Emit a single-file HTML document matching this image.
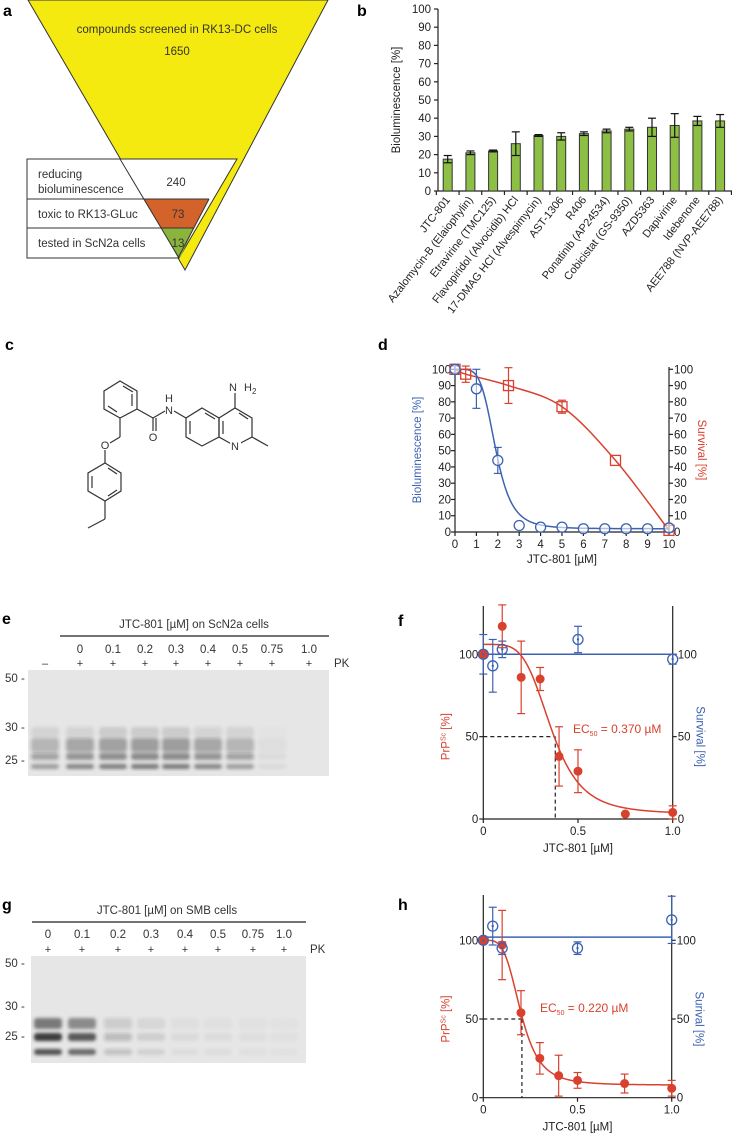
<!DOCTYPE html>
<html><head><meta charset="utf-8"><style>
html,body{margin:0;padding:0;background:#fff;}
svg{display:block;font-family:"Liberation Sans",sans-serif;}
</style></head><body>
<svg id="fig" xmlns="http://www.w3.org/2000/svg" width="732" height="1136" viewBox="0 0 732 1136">
<defs>
<filter id="blur" x="-20%" y="-50%" width="140%" height="200%"><feGaussianBlur stdDeviation="1.6"/></filter>
</defs>
<!-- Panel a -->
<g>
<text x="3" y="16" font-size="16" font-weight="bold">a</text>
<polygon points="28,0 328,0 185,270" fill="#f5ea10" stroke="#333" stroke-width="1"/>
<polygon points="27,159 237,159 179,258 27,258" fill="#fff" stroke="#333" stroke-width="1"/>
<polygon points="144,199 209,199 194,228 161,228" fill="#d4622b"/>
<polygon points="161,228 194,228 181,256 178,258" fill="#8ab43c"/>
<line x1="120" y1="159" x2="179" y2="258" stroke="#333" stroke-width="1"/>
<line x1="209" y1="199" x2="178" y2="258" stroke="#333" stroke-width="1"/>
<line x1="27" y1="199" x2="209" y2="199" stroke="#333" stroke-width="1"/>
<line x1="27" y1="228" x2="194" y2="228" stroke="#333" stroke-width="1"/>
<text x="177" y="33" font-size="11.5" text-anchor="middle" fill="#333">compounds screened in RK13-DC cells</text>
<text x="177" y="55" font-size="11.5" text-anchor="middle" fill="#333">1650</text>
<text x="38" y="178" font-size="11.5" fill="#333">reducing</text>
<text x="38" y="193" font-size="11.5" fill="#333">bioluminescence</text>
<text x="176" y="186" font-size="11.5" text-anchor="middle" fill="#333">240</text>
<text x="38" y="218" font-size="11.5" fill="#333">toxic to RK13-GLuc</text>
<text x="178" y="218" font-size="11.5" text-anchor="middle" fill="#333">73</text>
<text x="38" y="247" font-size="11.5" fill="#333">tested in ScN2a cells</text>
<text x="178" y="247" font-size="11.5" text-anchor="middle" fill="#333">13</text>
</g>
<text x="357" y="16" font-size="16" font-weight="bold">b</text>
<text x="5" y="350" font-size="16" font-weight="bold">c</text>
<text x="378" y="350" font-size="16" font-weight="bold">d</text>
<text x="2" y="624" font-size="16" font-weight="bold">e</text>
<text x="398" y="626" font-size="16" font-weight="bold">f</text>
<text x="2" y="910" font-size="16" font-weight="bold">g</text>
<text x="398" y="910" font-size="16" font-weight="bold">h</text>
<!-- Panel c structure -->
<g stroke="#333" stroke-width="1.2" fill="none">
<polygon points="120,381 137,391 137,409 120,418 104,409 104,391"/>
<line x1="123" y1="386" x2="133" y2="392"/><line x1="132" y1="406" x2="132" y2="394"/><line x1="108" y1="406" x2="117" y2="412"/>
<line x1="137" y1="409" x2="153" y2="418"/>
<line x1="153" y1="418" x2="153" y2="431"/><line x1="156" y1="418" x2="156" y2="431"/>
<line x1="153" y1="418" x2="165" y2="411"/>
<line x1="174" y1="411" x2="186" y2="418"/>
<polygon points="202,408 219,418 219,437 202,446 186,437 186,418"/>
<polygon points="219,418 235,408 252,418 252,437 235,446 219,437"/>
<line x1="190" y1="421" x2="190" y2="434"/><line x1="205" y1="413" x2="215" y2="419"/><line x1="239" y1="413" x2="248" y2="419"/><line x1="223" y1="421" x2="223" y2="434"/>
<line x1="235" y1="408" x2="235" y2="393"/>
<line x1="252" y1="437" x2="268" y2="446"/>
<line x1="120" y1="418" x2="120" y2="437"/><line x1="120" y1="437" x2="110" y2="443"/>
<line x1="105" y1="450" x2="105" y2="463"/>
<polygon points="105,463 121,473 121,491 105,501 88,491 88,473"/>
<line x1="108" y1="468" x2="117" y2="474"/><line x1="92" y1="476" x2="92" y2="488"/><line x1="108" y1="496" x2="117" y2="490"/>
<line x1="105" y1="501" x2="105" y2="519"/><line x1="105" y1="519" x2="88" y2="528"/>
</g>
<g font-size="11" fill="#333">
<rect x="149" y="431" width="9" height="11" fill="#fff"/>
<text x="153" y="441" text-anchor="middle">O</text>
<text x="169" y="414" text-anchor="middle">N</text>
<text x="169" y="402" text-anchor="middle">H</text>
<rect x="230" y="439" width="11" height="12" fill="#fff"/>
<text x="235" y="450" text-anchor="middle">N</text>
<text x="233" y="391" text-anchor="middle">N</text>
<text x="244" y="391">H</text><text x="252" y="394" font-size="8">2</text>
<text x="105" y="449" text-anchor="middle">O</text>
</g>
<!-- Blot e -->
<g>
<text x="194" y="628" font-size="11.5" text-anchor="middle" fill="#333">JTC-801 [µM] on ScN2a cells</text>
<line x1="60" y1="636" x2="329" y2="636" stroke="#222" stroke-width="1.2"/>
<rect x="28" y="670" width="301" height="106" fill="#e6e6e6"/>
<g id="blotE"></g>
</g>
<g>
<text x="167" y="914" font-size="11.5" text-anchor="middle" fill="#333">JTC-801 [µM] on SMB cells</text>
<line x1="32" y1="922" x2="306" y2="922" stroke="#222" stroke-width="1.2"/>
<rect x="31" y="956" width="275" height="107" fill="#e6e6e6"/>
<g id="blotG"></g>
</g>
<g id="charts"></g>
</svg>
<script>
// ---- Panel b data ----
const bCategories=["JTC-801","Azalomycin-B (Elaiophylin)","Etravirine (TMC125)","Flavopiridol (Alvocidib) HCl","17-DMAG HCl (Alvespimycin)","AST-1306","R406","Ponatinib (AP24534)","Cobicistat (GS-9350)","AZD5363","Dapivirine","Idebenone","AEE788 (NVP-AEE788)"];
const bValues=[17.5,21,22,26,30.5,30,31.5,33,34,35,36,38.5,38.5];
const bErrors=[2,1,0.5,6.5,0.5,2,1,1,1,5,6.5,2.5,3.5];
const bTicks=[0,10,20,30,40,50,60,70,80,90,100];
// ---- Panel d data ----
const dBlueX=[0,1,2,3,4,5,6,7,8,9,10];
const dBlueY=[100,88,44,4,3,3,2,2,2,2,2.5];
const dBlueErr=[3,12,8,0,0,0,0,0,0,0,0];
const dRedX=[0,0.5,2.5,5,7.5,10];
const dRedY=[100,97,90,77,44,1];
const dRedErr=[2,5,11,4,0,0];
const dBlueFit=[2,100,1.9,5]; // bottom, top, ec50, hill
const dYTicks=[0,10,20,30,40,50,60,70,80,90,100];
const dXTicks=[0,1,2,3,4,5,6,7,8,9,10];
// ---- Panel f data ----
const fRedX=[0,0.1,0.2,0.3,0.4,0.5,0.75,1.0];
const fRedY=[100,117,86,85,38,29,3,4];
const fRedErr=[0,13,22,7,18,13,0,4];
const fBlueX=[0,0.05,0.1,0.5,1.0];
const fBlueY=[100,93,103,109,97];
const fBlueErr=[12,16,5,8,3];
const fRedFit=[3,106,0.36,4.5];
const fBlueLevel=[100];
const fEC50=[0.38];
// ---- Panel h data ----
const hRedX=[0,0.1,0.2,0.3,0.4,0.5,0.75,1.0];
const hRedY=[100,97,54,25,14,11,9,6];
const hRedErr=[0,22,14,10,13,5,6,5];
const hBlueX=[0,0.05,0.1,0.5,1.0];
const hBlueY=[100,109,95,95,113];
const hBlueErr=[0,12,4,4,15];
const hRedFit=[8,100,0.2,4];
const hBlueLevel=[102];
const hEC50=[0.205];
const fhYTicks=[0,50,100];
const fhXTicks=[0,0.5,1.0];
// ---- Blot data ----
const eLanes=["–","0","0.1","0.2","0.3","0.4","0.5","0.75","1.0"];
const eLaneX=[45,80,113,145,176,208,240,272,309];
const eIntensity=[0.55,0.7,0.75,0.78,0.78,0.7,0.55,0.08,0];
const gLanes=["0","0.1","0.2","0.3","0.4","0.5","0.75","1.0"];
const gLaneX=[48,82,118,151,185,218,253,284];
const gIntensity=[1,0.85,0.25,0.12,0.06,0.05,0.04,0.03];

const NS="http://www.w3.org/2000/svg";
const root=document.getElementById('charts');
const RED="#d9412f", BLUE="#3d62b3", INK="#222";
function add(tag,attrs,name,parent){
  const el=document.createElementNS(NS,tag);
  for(const k in attrs) el.setAttribute(k,attrs[k]);
  
  
  (parent||root).appendChild(el);
  return el;
}
function txt(x,y,s,name,opt){
  const o=Object.assign({x:x,y:y,'font-size':11,fill:INK},opt||{});
  const t=add('text',o,name);
  t.textContent=s;return t;
}
function line(x1,y1,x2,y2,name,stroke,w,dash){
  const a={x1:x1,y1:y1,x2:x2,y2:y2,stroke:stroke||INK,'stroke-width':w||1.2};
  if(dash)a['stroke-dasharray']=dash;
  return add('line',a,name);
}
function errbar(x,y0,y1,col,name){
  line(x,y0,x,y1,name,col,1.2);
  line(x-4,y0,x+4,y0,name+'-cap',col,1.2);
  line(x-4,y1,x+4,y1,name+'-cap',col,1.2);
}
function hill(p,x){return p[0]+(p[1]-p[0])/(1+Math.pow(Math.max(x,1e-9)/p[2],p[3]));}

// ===== Panel b =====
const yb=v=>191-v*1.82, xb=i=>447.7+i*22.7;
line(438,9,438,191,'b-y-axis');
line(438,191,732,191,'b-x-axis');
bTicks.forEach(t=>{line(434,yb(t),438,yb(t),'b-y-tick');txt(431,yb(t)+4,String(t),'b-y-tick-label',{'text-anchor':'end','font-size':11.5});});
for(let i=0;i<=bCategories.length;i++){line(xb(i)-11.35,191,xb(i)-11.35,195,'b-x-tick');}
bValues.forEach((v,i)=>{
  add('rect',{x:xb(i)-4.5,y:yb(v),width:9,height:191-yb(v),fill:'#8dbf45',stroke:'#333','stroke-width':1},'bar-'+i);
  errbar(xb(i),yb(v+bErrors[i]),yb(v-bErrors[i]),'#111','b-error-'+i);
  const t=txt(0,0,bCategories[i],'b-category-label',{'text-anchor':'end','font-size':11,transform:`translate(${xb(i)+3},${200}) rotate(-52)`});
});
txt(0,0,'Bioluminescence [%]','b-y-axis-title',{'text-anchor':'middle','font-size':11.5,transform:'translate(400,100) rotate(-90)'});

// ===== Panel d =====
const xd=v=>455+v*21.4, yd=v=>532-v*1.627;
line(455,367,455,532,'d-left-axis');line(669,367,669,532,'d-right-axis');line(455,532,669,532,'d-x-axis');
dYTicks.forEach(t=>{line(451,yd(t),455,yd(t),'d-left-tick');line(669,yd(t),673,yd(t),'d-right-tick');
 txt(451,yd(t)+4,String(t),'d-left-tick-label',{'text-anchor':'end','font-size':11.5});
 txt(674,yd(t)+4,String(t),'d-right-tick-label',{'font-size':11.5});});
dXTicks.forEach(t=>{line(xd(t),532,xd(t),536,'d-x-tick');txt(xd(t),548,String(t),'d-x-tick-label',{'text-anchor':'middle','font-size':11.5});});
txt(562,563,'JTC-801 [µM]','d-x-axis-title',{'text-anchor':'middle','font-size':11.5});
txt(0,0,'Bioluminescence [%]','d-left-axis-title',{'text-anchor':'middle','font-size':11.5,fill:BLUE,transform:'translate(421,450) rotate(-90)'});
txt(0,0,'Survival [%]','d-right-axis-title',{'text-anchor':'middle','font-size':11.5,fill:RED,transform:'translate(698,450) rotate(90)'});
// red curve: catmull-rom through points
(function(){
  const P=dRedX.map((x,i)=>[xd(x),yd(dRedY[i])]);
  let d='M'+P[0][0]+','+P[0][1];
  for(let i=0;i<P.length-1;i++){
    const p0=P[Math.max(i-1,0)],p1=P[i],p2=P[i+1],p3=P[Math.min(i+2,P.length-1)];
    const c1=[p1[0]+(p2[0]-p0[0])/6,p1[1]+(p2[1]-p0[1])/6],c2=[p2[0]-(p3[0]-p1[0])/6,p2[1]-(p3[1]-p1[1])/6];
    d+=` C${c1[0]},${c1[1]} ${c2[0]},${c2[1]} ${p2[0]},${p2[1]}`;
  }
  add('path',{d:d,fill:'none',stroke:RED,'stroke-width':1.5},'d-survival-curve');
})();
(function(){let d='';for(let x=0;x<=10.001;x+=0.05){d+=(d?'L':'M')+xd(x)+','+yd(hill(dBlueFit,x));}
 add('path',{d:d,fill:'none',stroke:BLUE,'stroke-width':1.5},'d-bioluminescence-curve');})();
dRedX.forEach((x,i)=>{if(dRedErr[i])errbar(xd(x),yd(dRedY[i]+dRedErr[i]),yd(dRedY[i]-dRedErr[i]),RED,'d-survival-error');
 add('rect',{x:xd(x)-5,y:yd(dRedY[i])-5,width:10,height:10,fill:'none',stroke:RED,'stroke-width':1.3},'d-survival-point');});
dBlueX.forEach((x,i)=>{if(dBlueErr[i])errbar(xd(x),yd(dBlueY[i]+dBlueErr[i]),yd(dBlueY[i]-dBlueErr[i]),BLUE,'d-bioluminescence-error');
 add('circle',{cx:xd(x),cy:yd(dBlueY[i]),r:5,fill:'#fff','fill-opacity':0.6,stroke:BLUE,'stroke-width':1.3},'d-bioluminescence-point');});

// ===== Panels f & h =====
function doseChart(p,pre){
  const X=v=>p.x0+v*p.sx, Y=v=>p.y0-v*p.sy;
  line(p.x0,p.top,p.x0,p.y0,pre+'-left-axis');line(X(1),p.top,X(1),p.y0,pre+'-right-axis');line(p.x0,p.y0,X(1),p.y0,pre+'-x-axis');
  fhYTicks.forEach(t=>{line(p.x0-4,Y(t),p.x0,Y(t),pre+'-left-tick');line(X(1),Y(t),X(1)+4,Y(t),pre+'-right-tick');
    txt(p.x0-5,Y(t)+4,String(t),pre+'-left-tick-label',{'text-anchor':'end','font-size':11.5});
    txt(X(1)+5,Y(t)+4,String(t),pre+'-right-tick-label',{'font-size':11.5});});
  fhXTicks.forEach(t=>{line(X(t),p.y0,X(t),p.y0+4,pre+'-x-tick');txt(X(t),p.y0+16,t===0?'0':t.toFixed(1),pre+'-x-tick-label',{'text-anchor':'middle','font-size':11.5});});
  txt(X(0.5),p.y0+33,'JTC-801 [µM]',pre+'-x-axis-title',{'text-anchor':'middle','font-size':11.5});
  const lt=txt(0,0,'PrP',pre+'-left-axis-title',{'text-anchor':'middle','font-size':11.5,fill:RED,transform:`translate(${p.x0-34},${Y(50)}) rotate(-90)`});
  const ts=document.createElementNS(NS,'tspan');ts.setAttribute('font-size','7');ts.setAttribute('dy','-4');ts.textContent='Sc';lt.appendChild(ts);
  const ts2=document.createElementNS(NS,'tspan');ts2.setAttribute('dy','4');ts2.textContent=' [%]';lt.appendChild(ts2);
  txt(0,0,p.rlabel,pre+'-right-axis-title',{'text-anchor':'middle','font-size':11.5,fill:BLUE,transform:`translate(${X(1)+24},${Y(50)}) rotate(90)`});
  // EC50 dashes
  line(p.x0,Y(50),X(p.ec[0]),Y(50),pre+'-ec50-h-dash','#222',1.2,'4,3');
  line(X(p.ec[0]),Y(50),X(p.ec[0]),p.y0,pre+'-ec50-v-dash','#222',1.2,'4,3');
  const et=txt(p.ecx,p.ecy,'EC',pre+'-ec50-label',{'font-size':12,fill:RED});
  const s1=document.createElementNS(NS,'tspan');s1.setAttribute('font-size','7');s1.setAttribute('dy','3');s1.textContent='50';et.appendChild(s1);
  const s2=document.createElementNS(NS,'tspan');s2.setAttribute('dy','-3');s2.textContent=' = '+p.ectext;et.appendChild(s2);
  // blue line
  line(p.x0,Y(p.level[0]),X(1),Y(p.level[0]),pre+'-survival-line',BLUE,1.5);
  let d='';for(let x=0;x<=1.0001;x+=0.005){d+=(d?'L':'M')+X(x)+','+Y(hill(p.fit,x));}
  add('path',{d:d,fill:'none',stroke:RED,'stroke-width':1.5},pre+'-prpsc-curve');
  p.bx.forEach((x,i)=>{if(p.be[i])errbar(X(x),Y(p.by[i]+p.be[i]),Y(p.by[i]-p.be[i]),BLUE,pre+'-survival-error');});
  p.rx.forEach((x,i)=>{if(p.re[i])errbar(X(x),Y(p.ry[i]+p.re[i]),Y(Math.max(p.ry[i]-p.re[i],0)),RED,pre+'-prpsc-error');
    add('circle',{cx:X(x),cy:Y(p.ry[i]),r:4.5,fill:RED},pre+'-prpsc-point');});
  p.bx.forEach((x,i)=>{add('circle',{cx:X(x),cy:Y(p.by[i]),r:5,fill:'none',stroke:BLUE,'stroke-width':1.3},pre+'-survival-point');
    add('circle',{cx:X(x),cy:Y(p.by[i]),r:1.2,fill:BLUE},pre+'-survival-point-dot');});
}
doseChart({x0:483.3,sx:189.4,y0:819,sy:1.647,top:606,rx:fRedX,ry:fRedY,re:fRedErr,bx:fBlueX,by:fBlueY,be:fBlueErr,fit:fRedFit,level:fBlueLevel,ec:fEC50,ecx:573,ecy:733,ectext:'0.370 µM',rlabel:'Survival [%]'},'f');
doseChart({x0:483.3,sx:188.4,y0:1097.7,sy:1.574,top:895,rx:hRedX,ry:hRedY,re:hRedErr,bx:hBlueX,by:hBlueY,be:hBlueErr,fit:hRedFit,level:hBlueLevel,ec:hEC50,ecx:540,ecy:1012,ectext:'0.220 µM',rlabel:'Surival [%]'},'h');

// ===== Blots =====
function blot(gid,labels,xs,inten,cfg){
  const g=document.getElementById(gid);
  labels.forEach((l,i)=>{
    const t=add('text',{x:xs[i],y:cfg.labY,'font-size':11.5,'text-anchor':'middle',fill:'#333'},gid+'-lane-label',g);t.textContent=l==='–'?'':l;
    const p=add('text',{x:xs[i],y:cfg.pkY,'font-size':11,'text-anchor':'middle',fill:'#333'},gid+'-pk-sign',g);p.textContent=l==='–'?'–':'+';
    const a=inten[i];
    if(a>0){cfg.bands.forEach(b=>{
      add('rect',{x:xs[i]-cfg.w/2,y:b[0],width:cfg.w,height:b[1],rx:3,fill:'#222','fill-opacity':a*b[2],filter:'url(#blur)'},gid+'-band',g);});}
  });
  const pk=add('text',{x:cfg.pkX,y:cfg.pkY,'font-size':11.5,fill:'#333'},gid+'-pk-label',g);pk.textContent='PK';
  cfg.mw.forEach(m=>{const t=add('text',{x:5,y:m[1]+4,'font-size':11.5,fill:'#333'},gid+'-mw-marker',g);t.textContent=m[0]+' -';});
}
blot('blotE',eLanes,eLaneX,eIntensity,{labY:653,pkY:667,pkX:334,w:28,mw:[['50',678],['30',727],['25',760]],
  bands:[[738,14,0.45],[753,7,0.6],[764,5,0.7],[727,10,0.15]]});
blot('blotG',gLanes,gLaneX,gIntensity,{labY:938,pkY:953,pkX:310,w:28,mw:[['50',963],['30',1006],['25',1036]],
  bands:[[1018,11,0.55],[1033,8,0.85],[1049,6,0.75]]});
</script>
</body></html>
